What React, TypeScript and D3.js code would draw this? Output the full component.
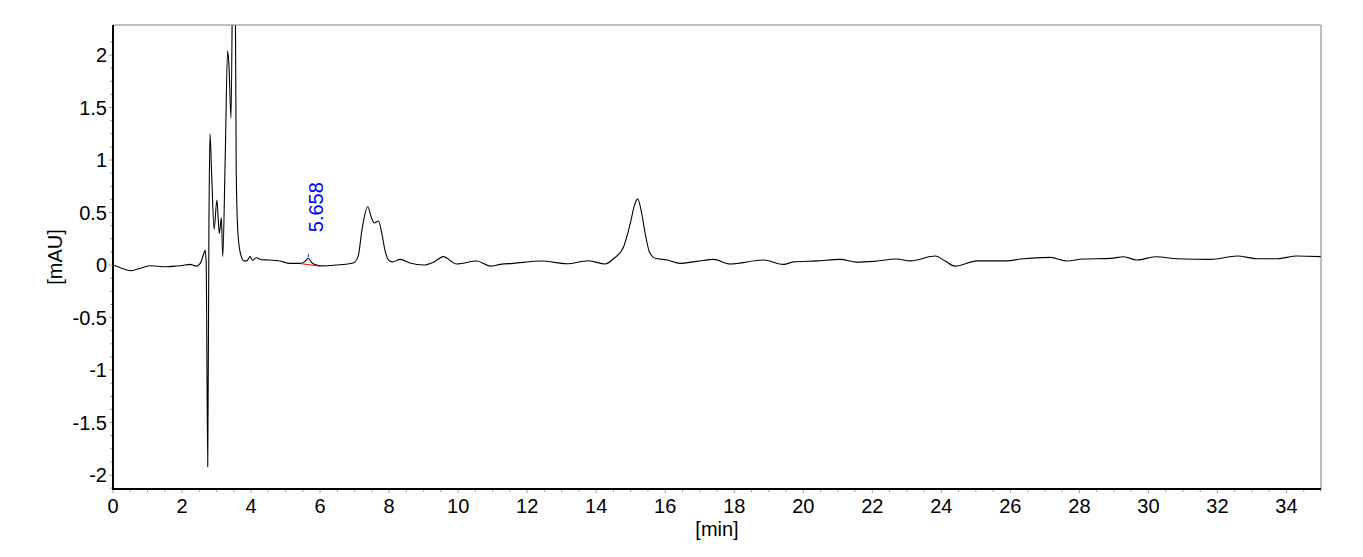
import React from "react";
import * as d3 from "d3";

// Chromatogram trace: retention time [min] and absorbance [mAU]
const times = [
  0, 0.25, 0.5, 0.75, 1.07, 1.3, 1.56, 1.8, 2.0, 2.23, 2.42, 2.55, 2.62, 2.67, 2.7, 2.745, 2.78, 2.81, 2.86, 2.93,
  3.01, 3.08, 3.14, 3.18, 3.25, 3.32, 3.36, 3.42, 3.49, 3.53, 3.57, 3.62, 3.7, 3.8, 3.88, 3.97, 4.05, 4.15, 4.3,
  4.55, 4.84, 5.13, 5.42, 5.55, 5.658, 5.75, 5.9, 6.0, 6.48, 6.96, 7.1, 7.22, 7.38, 7.5, 7.57, 7.69, 7.79, 7.88,
  7.98, 8.1, 8.32, 8.6, 9.0, 9.3, 9.57, 9.96, 10.54, 10.93, 11.22, 11.6, 12.43, 13.15, 13.78, 14.26, 14.5, 14.79,
  14.99, 15.11, 15.2, 15.32, 15.42, 15.54, 15.71, 16.05, 16.43, 16.92, 17.4, 17.88, 18.85, 19.43, 19.72, 20.4,
  21.07, 21.55, 22.04, 22.71, 23.1, 23.83, 24.1, 24.4, 25.03, 25.9, 26.29, 27.16, 27.64, 28.1, 28.9, 29.28, 29.67,
  30.2, 30.83, 31.8, 32.57, 33.15, 33.73, 34.3, 35.0,
];
const absorbance = [
  0, -0.03, -0.054, -0.035, -0.007, -0.012, -0.016, -0.01, -0.005, 0.006, -0.01, 0.03, 0.1, 0.14, 0.02, -1.92, 0.4,
  1.25, 0.85, 0.34, 0.62, 0.3, 0.45, 0.08, 1.0, 2.04, 1.9, 1.4, 3.6, 3.4, 0.9, 0.3, 0.1, 0.04, 0.04, 0.08, 0.045,
  0.07, 0.05, 0.048, 0.038, 0.016, 0.016, 0.03, 0.065, 0.025, 0.0, -0.008, 0.0, 0.02, 0.08, 0.35, 0.555, 0.44, 0.4,
  0.42, 0.3, 0.14, 0.05, 0.03, 0.054, 0.02, 0.0, 0.03, 0.08, 0.01, 0.038, -0.01, 0.006, 0.016, 0.038, 0.012, 0.041,
  0.01, 0.06, 0.17, 0.4, 0.57, 0.63, 0.49, 0.3, 0.127, 0.064, 0.048, 0.016, 0.035, 0.054, 0.01, 0.048, 0.006, 0.03,
  0.04, 0.054, 0.028, 0.035, 0.057, 0.04, 0.086, 0.04, -0.01, 0.04, 0.04, 0.057, 0.073, 0.038, 0.057, 0.063, 0.079,
  0.048, 0.079, 0.06, 0.054, 0.086, 0.06, 0.06, 0.086, 0.08,
];

// Integrated peak
const peakLabels = ["5.658"];
const peakApexTime = [5.658];
const peakApexValue = [0.065];
const peakBaseStart = [5.44, 0.013];
const peakBaseEnd = [5.98, -0.01];

const xTicks = [0, 2, 4, 6, 8, 10, 12, 14, 16, 18, 20, 22, 24, 26, 28, 30, 32, 34];
const yTicks = [2, 1.5, 1, 0.5, 0, -0.5, -1, -1.5, -2];
const yTickLabels = ["2", "1.5", "1", "0.5", "0", "-0.5", "-1", "-1.5", "-2"];
const xDomain = [0, 35];
const yDomain = [-2.133, 2.286];

const W = 1363;
const H = 557;
const L = 113;
const R = 1321;
const T = 25;
const B = 489;
const FONT = "'Liberation Sans', Arial, sans-serif";

export default function App() {
  const x = d3.scaleLinear().domain(xDomain).range([L, R]);
  const y = d3.scaleLinear().domain(yDomain).range([B, T]);
  const pts = times.map((t, i) => [t, absorbance[i]] as [number, number]);
  const line = d3
    .line<[number, number]>()
    .x((d) => x(d[0]))
    .y((d) => y(d[1]))
    .curve(d3.curveMonotoneX);

  const xMinor = d3.range(0, 35.001, 0.5).filter((v) => Math.abs(v / 2 - Math.round(v / 2)) > 1e-6);
  const yMinor = d3.range(-2.125, 2.2, 0.125).filter((v) => Math.abs(v * 2 - Math.round(v * 2)) > 1e-6);

  return (
    <svg width={W} height={H} style={{ position: "absolute", left: 0, top: 0, background: "#fff" }}>
      <defs>
        <clipPath id="plot">
          <rect x={L} y={T} width={R - L} height={B - T} />
        </clipPath>
      </defs>
      <rect x={0} y={0} width={W} height={H} fill="#fff" />
      {/* ticks */}
      {xMinor.map((v) => (
        <line key={"xm" + v} x1={x(v)} x2={x(v)} y1={B} y2={B + 3} stroke="#a0a0a0" strokeWidth={1} />
      ))}
      {xTicks.map((v) => (
        <line key={"xt" + v} x1={x(v)} x2={x(v)} y1={B} y2={B + 4} stroke="#a0a0a0" strokeWidth={1} />
      ))}
      {yMinor.map((v) => (
        <line key={"ym" + v} x1={L - 3} x2={L} y1={y(v)} y2={y(v)} stroke="#a0a0a0" strokeWidth={1} />
      ))}
      {yTicks.map((v) => (
        <line key={"yt" + v} x1={L - 4} x2={L} y1={y(v)} y2={y(v)} stroke="#a0a0a0" strokeWidth={1} />
      ))}
      {/* tick labels */}
      {xTicks.map((v) => (
        <text key={"xl" + v} x={x(v)} y={513} textAnchor="middle" fontFamily={FONT} fontSize={20} fill="#000">
          {String(v)}
        </text>
      ))}
      {yTicks.map((v, i) => (
        <text
          key={"yl" + v}
          x={107}
          y={y(v)}
          dy="0.35em"
          textAnchor="end"
          fontFamily={FONT}
          fontSize={20}
          fill="#000"
        >
          {yTickLabels[i]}
        </text>
      ))}
      {/* axis titles */}
      <text x={(L + R) / 2} y={536} textAnchor="middle" fontFamily={FONT} fontSize={20} fill="#000">
        [min]
      </text>
      <text
        transform={`translate(62,${(T + B) / 2}) rotate(-90)`}
        textAnchor="middle"
        fontFamily={FONT}
        fontSize={20}
        fill="#000"
      >
        [mAU]
      </text>
      {/* trace */}
      <g clipPath="url(#plot)">
        <path d={line(pts) || ""} fill="none" stroke="#000" strokeWidth={1.1} strokeLinejoin="round" />
        <line
          x1={x(peakBaseStart[0])}
          y1={y(peakBaseStart[1])}
          x2={x(peakBaseEnd[0])}
          y2={y(peakBaseEnd[1])}
          stroke="#ff0000"
          strokeWidth={1}
        />
        {peakApexTime.map((t, i) => (
          <line
            key={"pk" + i}
            x1={x(t)}
            x2={x(t)}
            y1={y(peakApexValue[i]) - 1}
            y2={y(peakApexValue[i]) - 4}
            stroke="#0000ff"
            strokeWidth={1}
          />
        ))}
      </g>
      {peakApexTime.map((t, i) => (
        <text
          key={"pl" + i}
          transform={`translate(${x(t) + 15},${y(peakApexValue[i]) - 26}) rotate(-90)`}
          textAnchor="start"
          fontFamily={FONT}
          fontSize={20}
          fill="#0000ff"
        >
          {peakLabels[i]}
        </text>
      ))}
      {/* frame */}
      <line x1={L} x2={R} y1={T} y2={T} stroke="#808080" strokeWidth={1} />
      <line x1={R} x2={R} y1={T} y2={B} stroke="#808080" strokeWidth={1} />
      <line x1={L} x2={L} y1={T} y2={B + 1} stroke="#000" strokeWidth={2} />
      <line x1={L - 1} x2={R} y1={B} y2={B} stroke="#000" strokeWidth={2} />
    </svg>
  );
}
